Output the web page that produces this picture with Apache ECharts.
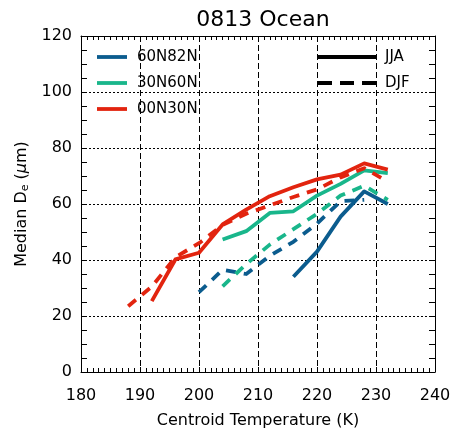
<!DOCTYPE html>
<html>
<head>
<meta charset="utf-8">
<script src="https://cdn.jsdelivr.net/npm/echarts@6/dist/echarts.min.js"></script>
<style>
  html, body { margin: 0; padding: 0; background: #fff; }
  #chart { width: 456px; height: 436px; }
</style>
</head>
<body>
<div id="chart"></div>
<script>
// Centroid temperature bins (K)
const bins = [188, 192, 196, 200, 204, 208, 212, 216, 220, 224, 228, 232];

// Median effective diameter (µm) per latitude band and season; null = no data in bin
const jja60N82N = [null, null, null, null, null, null, null, 34, 43, 55.5, 64.5, 60];
const djf60N82N = [null, null, null, 28.5, 36.5, 35, 41.5, 46.5, 53, 61, 61.5, null];
const jja30N60N = [null, null, null, null, 47.3, 50.3, 56.8, 57.4, 63, 67.2, 72, 71];
const djf30N60N = [null, null, null, null, 30.6, 38.5, 45.5, 51, 56.5, 63, 66.5, 61.5];
const jja00N30N = [null, 25.3, 40.2, 42.6, 52.7, 58, 62.8, 66, 68.8, 70.5, 74.5, 72.3];
const djf00N30N = [23.5, 30.5, 41, 46, 52.5, 56.5, 59.5, 62.5, 65.2, 69.5, 72.8, 68];

const bandNames = ['60N82N', '30N60N', '00N30N'];
const seasonNames = ['JJA', 'DJF'];
const xTicks = [180, 190, 200, 210, 220, 230, 240];
const yTicks = [0, 20, 40, 60, 80, 100, 120];

const colors = { '60N82N': '#0b5c8e', '30N60N': '#19b68b', '00N30N': '#e2240f' };
const FONT = 'DejaVu Sans';

function pairs(values) {
  const out = [];
  values.forEach((v, i) => { if (v !== null) out.push([bins[i], v]); });
  return out;
}

function lineSeries(band, season, values) {
  return {
    type: 'line',
    name: band + ' ' + season,
    data: pairs(values),
    showSymbol: false,
    symbol: 'none',
    silent: true,
    animation: false,
    lineStyle: {
      color: colors[band],
      width: 3.8,
      type: season === 'DJF' ? [10, 8] : 'solid',
      cap: 'butt',
      join: 'round'
    }
  };
}

const chart = echarts.init(document.getElementById('chart'), null, { renderer: 'canvas' });

const axisCommon = {
  type: 'value',
  axisLine: { show: true, onZero: false, lineStyle: { color: '#000', width: 1 } },
  axisTick: { show: true, inside: true, lineStyle: { color: '#000', width: 1 } },
  minorTick: { show: true, lineStyle: { color: '#000', width: 1 } }
};

const legendLeftX = 97, legendRightX = 318;
const legendRowsY = [57, 83, 109];

const graphics = [];
bandNames.forEach((b, i) => {
  graphics.push({
    type: 'line',
    shape: { x1: legendLeftX, y1: legendRowsY[i], x2: legendLeftX + 30, y2: legendRowsY[i] },
    style: { stroke: colors[b], lineWidth: 3.8 }
  });
  graphics.push({
    type: 'text',
    x: legendLeftX + 40, y: legendRowsY[i],
    style: { text: b, font: '15px "' + FONT + '"', fill: '#000', verticalAlign: 'middle' }
  });
});
seasonNames.forEach((s, i) => {
  graphics.push({
    type: 'line',
    shape: { x1: legendRightX, y1: legendRowsY[i], x2: legendRightX + 58, y2: legendRowsY[i] },
    style: { stroke: '#000', lineWidth: 3.8, lineDash: s === 'DJF' ? [14, 8] : null }
  });
  graphics.push({
    type: 'text',
    x: legendRightX + 67, y: legendRowsY[i],
    style: { text: s, font: '15px "' + FONT + '"', fill: '#000', verticalAlign: 'middle' }
  });
});

const option = {
  animation: false,
  backgroundColor: '#fff',
  textStyle: { fontFamily: FONT, color: '#000' },
  title: {
    text: '0813 Ocean',
    left: 258, top: 4,
    textAlign: 'center',
    textStyle: { fontFamily: FONT, fontSize: 22, fontWeight: 'normal', color: '#000' }
  },
  grid: { left: 81, right: 21, top: 36, bottom: 64, containLabel: false },
  xAxis: [
    Object.assign({}, axisCommon, {
      position: 'bottom',
      min: xTicks[0], max: xTicks[xTicks.length - 1], interval: 10,
      axisTick: Object.assign({}, axisCommon.axisTick, { length: 5 }),
      minorTick: Object.assign({}, axisCommon.minorTick, { splitNumber: 10, length: 4 }),
      splitLine: { show: true, lineStyle: { color: '#000', width: 1, type: [6, 3] } },
      axisLabel: { fontFamily: FONT, fontSize: 16, color: '#000', margin: 16, showMinLabel: true, showMaxLabel: true },
      name: 'Centroid Temperature (K)',
      nameLocation: 'middle',
      nameGap: 41,
      nameTextStyle: { fontFamily: FONT, fontSize: 16, color: '#000' }
    }),
    Object.assign({}, axisCommon, {
      position: 'top',
      min: xTicks[0], max: xTicks[xTicks.length - 1], interval: 10,
      axisTick: Object.assign({}, axisCommon.axisTick, { length: 5 }),
      minorTick: Object.assign({}, axisCommon.minorTick, { splitNumber: 10, length: 4 }),
      splitLine: { show: false },
      axisLabel: { show: false }
    })
  ],
  yAxis: [
    Object.assign({}, axisCommon, {
      position: 'left',
      min: yTicks[0], max: yTicks[yTicks.length - 1], interval: 20,
      axisTick: Object.assign({}, axisCommon.axisTick, { length: 6 }),
      minorTick: Object.assign({}, axisCommon.minorTick, { splitNumber: 4, length: 6 }),
      splitLine: { show: true, lineStyle: { color: '#000', width: 1, type: [2, 2] } },
      axisLabel: { fontFamily: FONT, fontSize: 16, color: '#000', margin: 9, showMinLabel: true, showMaxLabel: true },
      name: 'Median D{sub|e} ({it|μ}m)',
      nameLocation: 'middle',
      nameRotate: 90,
      nameGap: 50,
      nameTextStyle: {
        fontFamily: FONT, fontSize: 16, color: '#000',
        rich: {
          sub: { fontFamily: FONT, fontSize: 11, color: '#000', verticalAlign: 'bottom', padding: [6, 0, 0, 0] },
          it: { fontFamily: FONT, fontSize: 16, color: '#000', fontStyle: 'italic' }
        }
      }
    }),
    Object.assign({}, axisCommon, {
      position: 'right',
      min: yTicks[0], max: yTicks[yTicks.length - 1], interval: 20,
      axisTick: Object.assign({}, axisCommon.axisTick, { length: 6 }),
      minorTick: Object.assign({}, axisCommon.minorTick, { splitNumber: 4, length: 6 }),
      splitLine: { show: false },
      axisLabel: { show: false }
    })
  ],
  series: [
    lineSeries('60N82N', 'JJA', jja60N82N),
    lineSeries('60N82N', 'DJF', djf60N82N),
    lineSeries('30N60N', 'JJA', jja30N60N),
    lineSeries('30N60N', 'DJF', djf30N60N),
    lineSeries('00N30N', 'JJA', jja00N30N),
    lineSeries('00N30N', 'DJF', djf00N30N)
  ],
  graphic: graphics
};

chart.setOption(option);
</script>
</body>
</html>
